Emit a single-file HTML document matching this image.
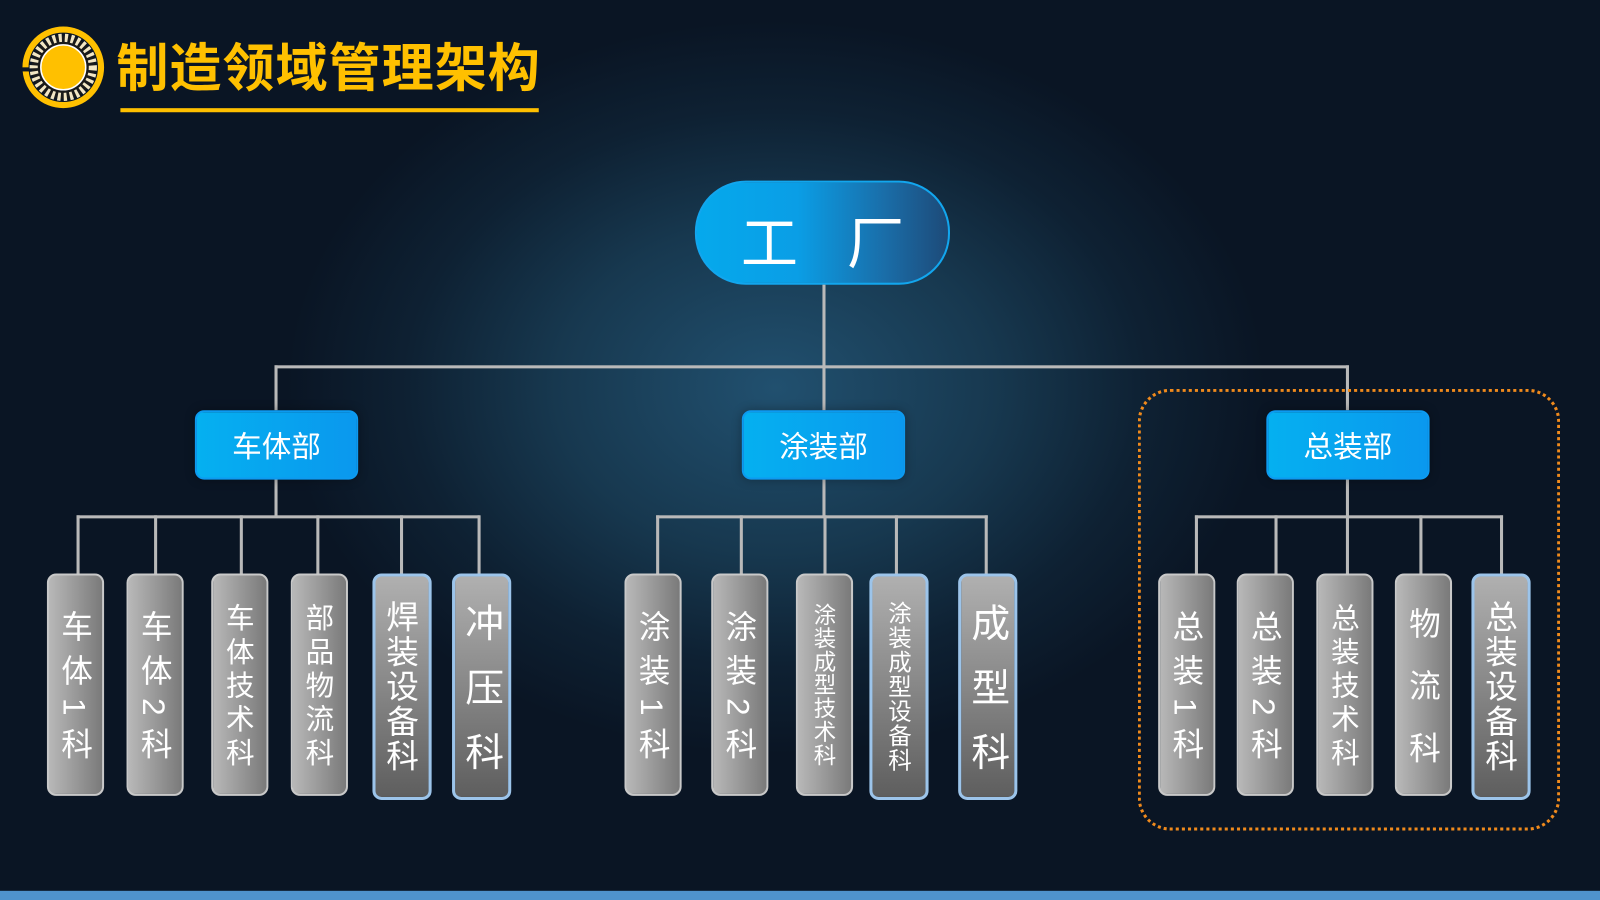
<!DOCTYPE html>
<html><head><meta charset="utf-8"><style>
html,body{margin:0;padding:0;width:1600px;height:900px;overflow:hidden;background:#0b1626;}
#s{position:absolute;left:0;top:0;width:1568px;height:882px;transform:scale(1.020408);transform-origin:0 0;
background:radial-gradient(ellipse 480px 360px at 760px 380px,#21506f 0%,#17384f 45%,#0e2133 75%,#0a1524 100%);
font-family:"Liberation Sans","Noto Sans CJK SC",sans-serif;overflow:hidden;}
.a{position:absolute;}
.l{position:absolute;background:#b9b9b9;}
.dept{position:absolute;top:402px;width:156px;height:64px;border:2px solid #0d9af0;border-radius:9px;
background:linear-gradient(90deg,#05b0f0,#0a98ee);color:#fff;font-size:29px;display:flex;align-items:center;justify-content:center;box-shadow:0 0 10px rgba(0,0,0,.3);}
.b{position:absolute;top:562px;height:218px;border:2px solid #c9c9c9;border-radius:9px;
background:linear-gradient(90deg,#b8b8b8,#7a7a7a);display:flex;align-items:center;justify-content:center;color:#fff;box-sizing:border-box;}
.b.blue{border:3px solid #9cc4ea;background:linear-gradient(180deg,#b0b0b0,#5e5e5e);height:222px;}
.b span{writing-mode:vertical-rl;white-space:nowrap;line-height:1;margin-left:-3px;}
</style></head><body><div id="s">
<svg class="a" style="left:20px;top:24px" width="86" height="86" viewBox="0 0 86 86">
<circle cx="42" cy="42" r="37" fill="none" stroke="#FFC000" stroke-width="6"/>
<rect x="0" y="42" width="10" height="4" fill="#0b1626"/>
<circle cx="42" cy="42" r="31" fill="#1a1a1a"/>
<circle cx="42" cy="42" r="29" fill="none" stroke="#f2e6c4" stroke-width="8" stroke-dasharray="3 3"/>
<circle cx="42" cy="42" r="22" fill="#FFC000" stroke="#fff" stroke-width="1.5"/>
</svg>
<div class="a" style="left:114px;top:26px;font-size:51px;font-weight:bold;color:#FFC000;letter-spacing:1px;white-space:nowrap;">制造领域管理架构</div>
<div class="a" style="left:118px;top:106px;width:410px;height:4px;background:#FFC000;"></div>
<div class="a" style="left:681px;top:177px;width:246px;height:98px;border:2px solid #12a6ee;border-radius:50px;background:linear-gradient(90deg,#05a9ec 0%,#0a9ee6 40%,#1a6da8 75%,#1d4a78 100%);"></div>
<div class="a" style="left:726px;top:194px;font-size:56px;color:#fff;">工</div>
<div class="a" style="left:830px;top:194px;font-size:56px;color:#fff;">厂</div>
<div class="l" style="left:806px;top:279px;width:3px;height:123px"></div>
<div class="l" style="left:269px;top:358px;width:1053px;height:3px"></div>
<div class="l" style="left:269px;top:358px;width:3px;height:44px"></div>
<div class="l" style="left:1319px;top:358px;width:3px;height:44px"></div>
<div class="l" style="left:269px;top:469px;width:3px;height:38px"></div>
<div class="l" style="left:806px;top:469px;width:3px;height:38px"></div>
<div class="l" style="left:1319px;top:469px;width:3px;height:38px"></div>
<div class="l" style="left:75px;top:505px;width:395px;height:3px"></div>
<div class="l" style="left:643px;top:505px;width:325px;height:3px"></div>
<div class="l" style="left:1171px;top:505px;width:302px;height:3px"></div>
<div class="l" style="left:75px;top:505px;width:3px;height:58px"></div>
<div class="l" style="left:151px;top:505px;width:3px;height:58px"></div>
<div class="l" style="left:235px;top:505px;width:3px;height:58px"></div>
<div class="l" style="left:310px;top:505px;width:3px;height:58px"></div>
<div class="l" style="left:392px;top:505px;width:3px;height:58px"></div>
<div class="l" style="left:468px;top:505px;width:3px;height:58px"></div>
<div class="l" style="left:643px;top:505px;width:3px;height:58px"></div>
<div class="l" style="left:725px;top:505px;width:3px;height:58px"></div>
<div class="l" style="left:807px;top:505px;width:3px;height:58px"></div>
<div class="l" style="left:877px;top:505px;width:3px;height:58px"></div>
<div class="l" style="left:965px;top:505px;width:3px;height:58px"></div>
<div class="l" style="left:1171px;top:505px;width:3px;height:58px"></div>
<div class="l" style="left:1249px;top:505px;width:3px;height:58px"></div>
<div class="l" style="left:1319px;top:505px;width:3px;height:58px"></div>
<div class="l" style="left:1391px;top:505px;width:3px;height:58px"></div>
<div class="l" style="left:1470px;top:505px;width:3px;height:58px"></div>
<div class="a" style="left:1115px;top:381px;width:408px;height:427px;border:3px dotted #f08a1c;border-radius:32px;"></div>
<div class="dept" style="left:191px">车体部</div>
<div class="dept" style="left:727px">涂装部</div>
<div class="dept" style="left:1241px">总装部</div>
<div class="b" style="left:46px;width:56px"><span style="font-size:31px;letter-spacing:12px;margin-bottom:-12px">车体1科</span></div>
<div class="b" style="left:124px;width:56px"><span style="font-size:31px;letter-spacing:12px;margin-bottom:-12px">车体2科</span></div>
<div class="b" style="left:207px;width:56px"><span style="font-size:28px;letter-spacing:5px;margin-bottom:-5px">车体技术科</span></div>
<div class="b" style="left:285px;width:56px"><span style="font-size:28px;letter-spacing:5px;margin-bottom:-5px">部品物流科</span></div>
<div class="b blue" style="left:365px;width:58px"><span style="font-size:32px;letter-spacing:2px">焊装设备科</span></div>
<div class="b blue" style="left:443px;width:58px"><span style="font-size:38px;letter-spacing:25px;margin-bottom:-25px">冲压科</span></div>
<div class="b" style="left:612px;width:56px"><span style="font-size:31px;letter-spacing:12px;margin-bottom:-12px">涂装1科</span></div>
<div class="b" style="left:697px;width:56px"><span style="font-size:31px;letter-spacing:12px;margin-bottom:-12px">涂装2科</span></div>
<div class="b" style="left:780px;width:56px"><span style="font-size:22px;letter-spacing:1px">涂装成型技术科</span></div>
<div class="b blue" style="left:852px;width:58px"><span style="font-size:23px;letter-spacing:1px">涂装成型设备科</span></div>
<div class="b blue" style="left:939px;width:58px"><span style="font-size:38px;letter-spacing:25px;margin-bottom:-25px">成型科</span></div>
<div class="b" style="left:1135px;width:56px"><span style="font-size:31px;letter-spacing:12px;margin-bottom:-12px">总装1科</span></div>
<div class="b" style="left:1212px;width:56px"><span style="font-size:31px;letter-spacing:12px;margin-bottom:-12px">总装2科</span></div>
<div class="b" style="left:1290px;width:56px"><span style="font-size:28px;letter-spacing:5px;margin-bottom:-5px">总装技术科</span></div>
<div class="b" style="left:1367px;width:56px"><span style="font-size:31px;letter-spacing:30px;margin-bottom:-30px">物流科</span></div>
<div class="b blue" style="left:1442px;width:58px"><span style="font-size:32px;letter-spacing:2px">总装设备科</span></div>
<div class="a" style="left:0;top:873px;width:1568px;height:9px;background:#4f93cc;"></div>
</div></body></html>
